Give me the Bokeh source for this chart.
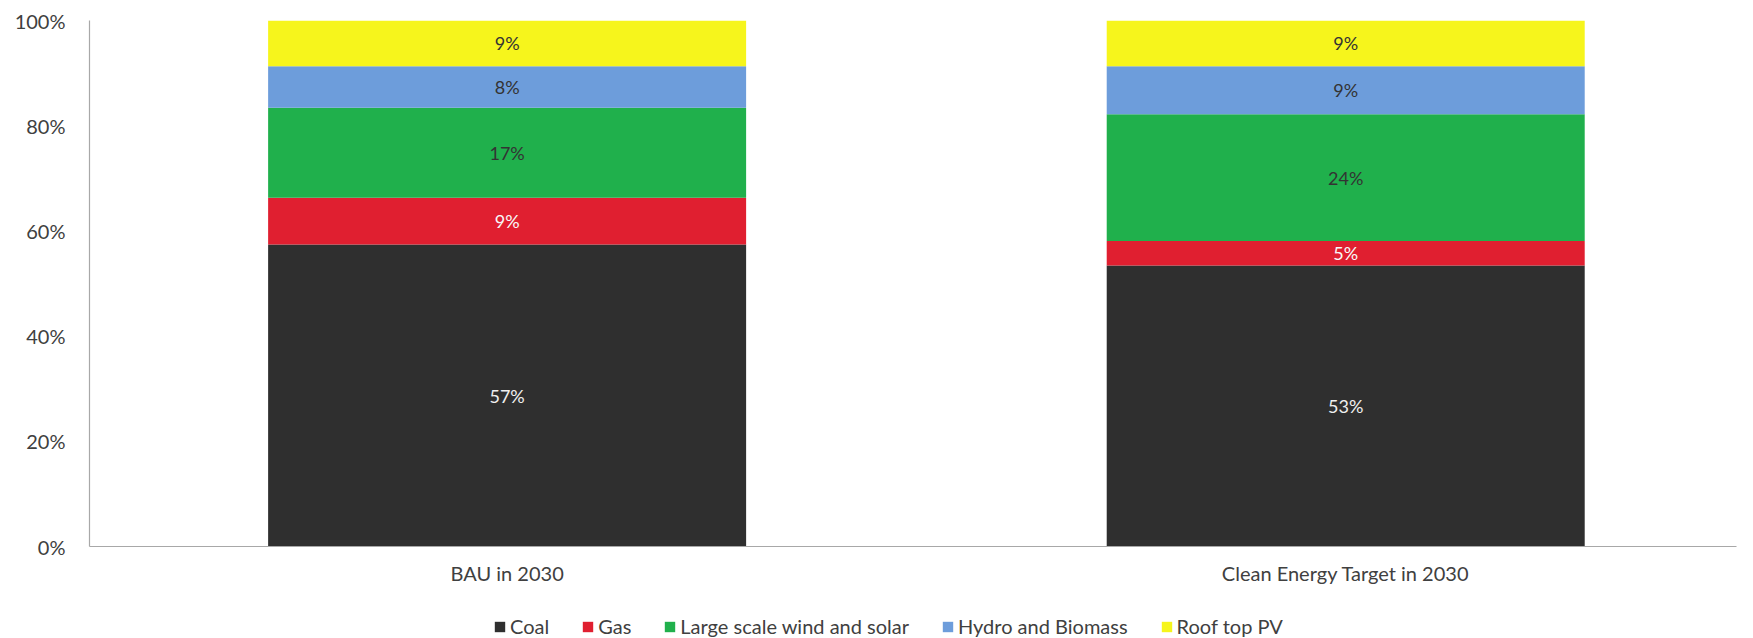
from bokeh.plotting import figure
from bokeh.layouts import column
from bokeh.models import (ColumnDataSource, Range1d, NumeralTickFormatter,
                          Legend, LegendItem, FixedTicker)
from bokeh.core.properties import value
from bokeh.embed import file_html
from bokeh.resources import INLINE

categories = ["BAU in 2030", "Clean Energy Target in 2030"]
series = ["Coal", "Gas", "Large scale wind and solar", "Hydro and Biomass", "Roof top PV"]
coal = [0.574, 0.534]
gas = [0.089, 0.047]
wind_solar = [0.171, 0.241]
hydro_biomass = [0.079, 0.091]
rooftop_pv = [0.087, 0.087]
y_ticks = [0, 0.2, 0.4, 0.6, 0.8, 1.0]

colors = ["#2f2f2f", "#e01f30", "#20b04c", "#6d9ddb", "#f6f51c"]
label_colors = ["#f0f0f0", "#f8f8f8", "#333333", "#333333", "#333333"]
FONT = "Lato"
TXT = "#404040"

xpos = [i + 0.5 for i in range(len(categories))]
data = {"x": xpos, "Coal": coal, "Gas": gas,
        "Large scale wind and solar": wind_solar,
        "Hydro and Biomass": hydro_biomass, "Roof top PV": rooftop_pv}
src = ColumnDataSource(data)

p = figure(x_range=Range1d(0.002, 1.966), y_range=Range1d(0, 1.0),
           width=1737, height=598, output_backend="svg", toolbar_location=None,
           min_border_left=89, min_border_right=1, min_border_top=20, min_border_bottom=52)
p.outline_line_color = None
p.grid.visible = False

rs = p.vbar_stack(series, x="x", width=0.57, color=colors, source=src, line_color=None)

# segment labels
vals = [coal, gas, wind_solar, hydro_biomass, rooftop_pv]
for i in range(len(categories)):
    base = 0.0
    xs, ys, ts, cs = [], [], [], []
    for k, v in enumerate(vals):
        xs.append(xpos[i]); ys.append(base + v[i] / 2)
        ts.append(f"{round(v[i]*100)}%"); cs.append(label_colors[k])
        base += v[i]
    p.text(x=xs, y=ys, text=ts, text_color=cs, text_align="center", text_baseline="middle",
           text_font=value(FONT), text_font_size="18px")

p.yaxis.ticker = FixedTicker(ticks=y_ticks)
p.yaxis.formatter = NumeralTickFormatter(format="0%")
p.xaxis.ticker = FixedTicker(ticks=xpos)
p.xaxis.major_label_overrides = {x: c for x, c in zip(xpos, categories)}
for ax in (p.xaxis, p.yaxis):
    ax.axis_line_color = "#a8a8a8"
    ax.axis_line_width = 1.2
    ax.major_tick_line_color = None
    ax.minor_tick_line_color = None
    ax.major_label_text_font = FONT
    ax.major_label_text_color = TXT
    ax.major_label_text_font_size = "20px"
p.yaxis.major_label_standoff = 18
p.xaxis.major_label_standoff = 8

# legend strip below the chart (bars drawn out of view, only used as legend glyphs)
lg = figure(x_range=Range1d(0, 2), y_range=Range1d(10, 11),
            width=1737, height=40, output_backend="svg", toolbar_location=None,
            x_axis_type=None, y_axis_type=None,
            min_border_left=0, min_border_right=0, min_border_top=0, min_border_bottom=0)
lg.outline_line_color = None
lg.grid.visible = False
lrs = lg.vbar_stack(series, x="x", width=0.57, color=colors, source=src, line_color=None)
legend = Legend(items=[LegendItem(label=s, renderers=[r]) for s, r in zip(series, lrs)],
                orientation="horizontal", location=(404, 0),
                label_text_font=FONT, label_text_font_size="20px", label_text_color=TXT,
                glyph_width=13, glyph_height=13, spacing=32, label_standoff=4,
                border_line_color=None, background_fill_alpha=0, padding=0, margin=0)
lg.add_layout(legend)

open("out.html", "w").write(file_html(column(p, lg, spacing=0), INLINE))
